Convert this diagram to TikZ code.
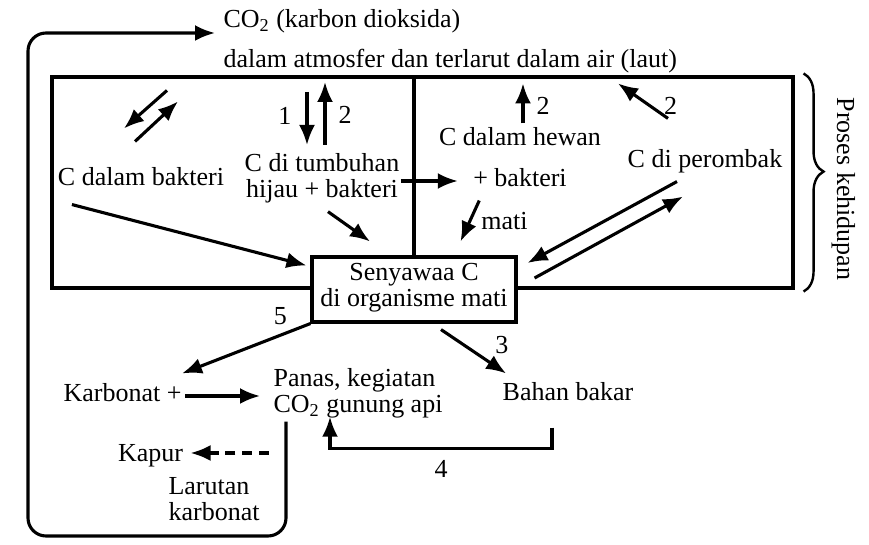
\documentclass[tikz,border=0pt]{standalone}
\usepackage{fontspec}
\setmainfont{Liberation Serif}
\usetikzlibrary{arrows.meta, calc, decorations.pathreplacing}

\begin{document}
\begin{tikzpicture}[
    x=0.5pt, y=-0.5pt, line width=1.55pt, >={Latex[length=10pt,width=8pt]},
    every node/.style={inner sep=0pt, font=\fontsize{13}{13}\selectfont},
    txt/.style={text height=9pt, text depth=3pt}
]
\useasboundingbox (0,0) rectangle (869,545);

\node (proses_hidup) [draw, minimum width=370.5pt, minimum height=105.5pt] at (422.5,182.5) {};

\node (co2_atm) [anchor=base west] at (222,28) {CO\textsubscript{2} (karbon dioksida)};
\node (air_laut) [anchor=base west] at (222,68) {dalam atmosfer dan terlarut dalam air (laut)};
\node (c_bakteri) [txt, anchor=base] at (141,186) {C dalam bakteri};
\node (c_tumbuhan) [align=center, anchor=north] at (322,152) {C di tumbuhan\\hijau + bakteri};
\node (c_hewan) [txt, anchor=base] at (520,146) {C dalam hewan};
\node (plus_bakteri) [txt, anchor=base] at (520,187) {+ bakteri};
\node (c_perombak) [txt, anchor=base] at (705,168) {C di perombak};
\node (senyawa_c) [draw, fill=white, align=center, minimum width=102pt, minimum height=32.5pt, text depth=4.5pt] at (414,289.5) {Senyawaa C\\di organisme mati};
\node (karbonat) [txt, anchor=base] at (122.5,402) {Karbonat +};
\node (panas) [align=left, anchor=north west] at (272,367) {Panas, kegiatan\\CO\textsubscript{2} gunung api};
\node (bahan_bakar) [txt, anchor=base] at (568,401) {Bahan bakar};
\node (kapur) [txt, anchor=base] at (150.5,462) {Kapur};
\node (larutan) [align=left, anchor=north west] at (167,476) {Larutan\\karbonat};
\node (proses) [txt, rotate=-90] at (843,189) {Proses kehidupan};

\coordinate (loop_bend) at (28,536);

%\draw (proses_hidup.north) -- (senyawa_c.north);
\draw (proses_hidup.north -| senyawa_c.north) -- (senyawa_c.north);
\draw[decorate, decoration={brace, amplitude=10pt, aspect=0.45}, line width=1.2pt] ($(proses_hidup.north east)+(9,-2)$) -- ($(proses_hidup.south east)+(9,2)$);

\draw[->, rounded corners=9pt] ($(panas.south west)+(14,2)$) |- (loop_bend) |- ($(co2_atm.base west)+(-7,5)$);
\draw[->] ($(c_bakteri.north)+(26,-76)$) -- ($(c_bakteri.north)+(-17,-38)$);
\draw[->] ($(c_bakteri.north)+(-6,-25)$) -- ($(c_bakteri.north)+(37,-65)$);
\draw[->] ($(c_tumbuhan.north)+(-15,-60)$) -- node[left=7pt, pos=0.45] {1} ($(c_tumbuhan.north)+(-15,-7)$);
\draw[->] ($(c_tumbuhan.north)+(3,-7)$) -- node[right=6pt, pos=0.48] {2} ($(c_tumbuhan.north)+(3,-70)$);
\draw[->] (c_tumbuhan.east |- plus_bakteri.west) -- ($(plus_bakteri.west)+(-14,0)$);
\draw[->] ($(c_hewan.north)+(3,-3)$) -- node[right=6pt, pos=0.45] {2} ($(c_hewan.north)+(3,-43)$);
\draw[->] ($(c_perombak.north)+(-37,-30)$) -- node[right=6pt, pos=0.35] {2} ($(c_perombak.north)+(-87,-65)$);
\draw[->] ($(c_bakteri.south west)+(15.5,11)$) -- ($(senyawa_c.north west)+(-4,10)$);
\draw[->] ($(c_tumbuhan.south)+(6,7)$) -- ($(senyawa_c.north)+(-44,-14)$);
\draw[->] ($(plus_bakteri.south west)+(7.5,6)$) -- node[right=5pt] {mati} ($(senyawa_c.north east)+(-57,-14)$);
\draw[->] ($(c_perombak.south)+(-28,6)$) -- ($(senyawa_c.east)+(10,-26.5)$);
\draw[->] ($(senyawa_c.east)+(17,-11.5)$) -- ($(c_perombak.south)+(-22,21)$);

\draw[->] (senyawa_c.south west) -- node[pos=0, anchor=south east, xshift=-11pt, yshift=-1.5pt] {5} ($(karbonat.north east)+(-1,-9)$);
\draw[->] ($(senyawa_c.south)+(27,6)$) -- node[pos=0.35, right=15pt] {3} ($(bahan_bakar.north west)+(5,-8)$);
\draw[->] ($(karbonat.east)+(2,0)$) -- ($(karbonat.east -| panas.west)+(-12,0)$);
\draw[->] ($(bahan_bakar.south)+(-16,19)$) -- ++(0,21) -| node[pos=0.25, below=5pt] {4} ($(panas.south west)+(58,-3)$);
\draw[->, dash pattern=on 5pt off 3.3pt] ($(kapur.east)+(84,-3)$) -- ($(kapur.east)+(6,-3)$);
\end{tikzpicture}
\end{document}
